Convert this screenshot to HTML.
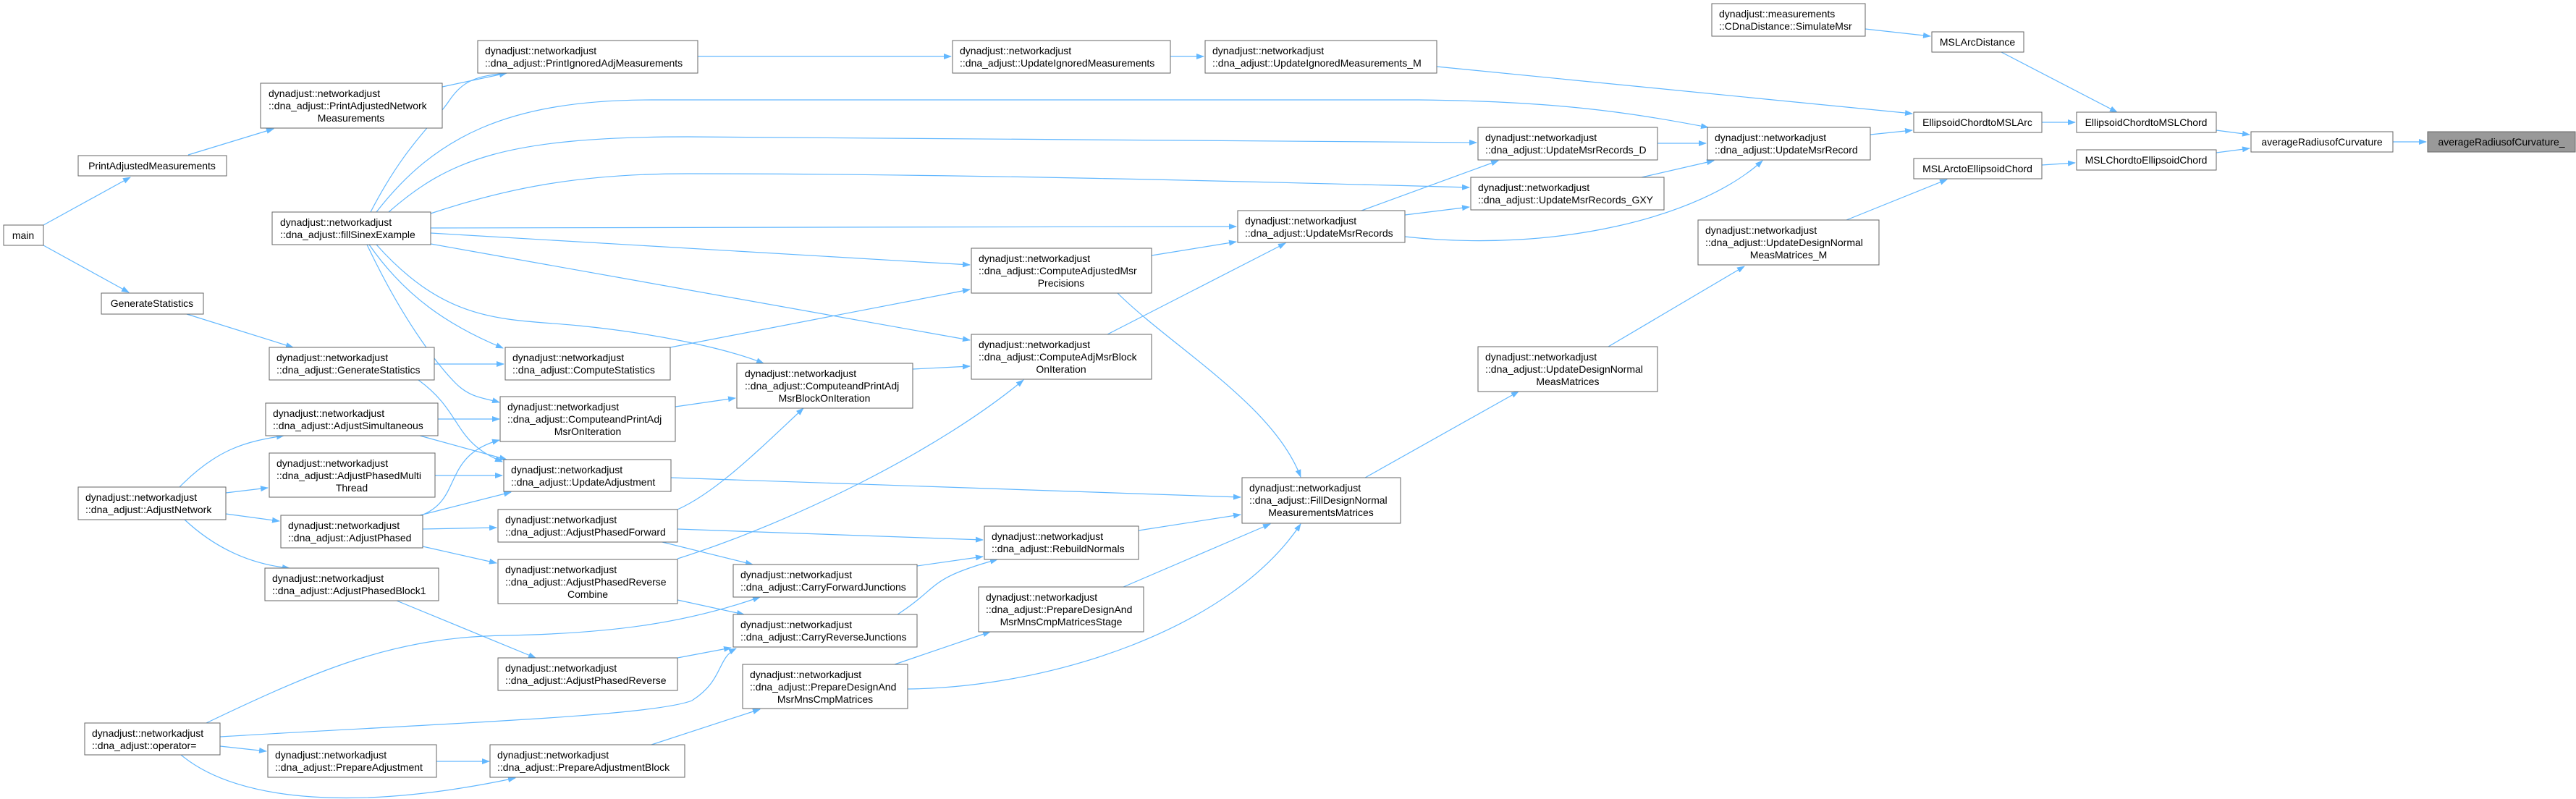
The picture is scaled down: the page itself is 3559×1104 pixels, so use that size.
<!DOCTYPE html>
<html><head><meta charset="utf-8"><style>
html,body{margin:0;padding:0;background:#fff;}
svg{display:block;}
text{font-family:"Liberation Sans",sans-serif;font-size:14px;fill:#000;}
rect{fill:#fff;stroke:#666;stroke-width:1;}
path.e{fill:none;stroke:#63b8ff;stroke-width:1.2;marker-end:url(#a);}
</style></head><body>
<svg width="3559" height="1104" viewBox="0 0 3559 1104" xmlns="http://www.w3.org/2000/svg">
<defs><marker id="a" markerWidth="11" markerHeight="8" refX="10" refY="4" orient="auto" markerUnits="userSpaceOnUse"><path d="M0,0 L11,4 L0,8 z" fill="#63b8ff"/></marker></defs>

<!-- edges -->
<path class="e" d="M60,311 L180,245"/>
<path class="e" d="M60,339 L178,404"/>
<path class="e" d="M260,214 L378,178"/>
<path class="e" d="M611,120 L700,101"/>
<path class="e" d="M512,293 C560,200 600,170 620,140 C640,110 660,105 700,101"/>
<path class="e" d="M520,293 C600,190 700,138 900,138 L1960,138 C2150,140 2250,155 2360,176"/>
<path class="e" d="M537,293 C620,220 700,189 950,189 L2040,197"/>
<path class="e" d="M595,295 C700,260 800,240 950,240 C1300,240 1700,250 2030,259"/>
<path class="e" d="M595,315 L1708,313"/>
<path class="e" d="M595,322 L1340,366"/>
<path class="e" d="M595,337 L1340,470"/>
<path class="e" d="M510,338 C560,410 620,450 695,481"/>
<path class="e" d="M520,338 C620,450 700,440 800,450 C900,460 1000,480 1055,502"/>
<path class="e" d="M507,338 C560,450 610,510 630,530 C650,550 670,550 690,556"/>
<path class="e" d="M258,434 L405,480"/>
<path class="e" d="M600,503 L696,503"/>
<path class="e" d="M578,525 C640,570 625,610 694,638"/>
<path class="e" d="M605,579 L690,579"/>
<path class="e" d="M580,602 L700,635"/>
<path class="e" d="M601,657 L694,657"/>
<path class="e" d="M248,673 C300,620 340,610 392,602"/>
<path class="e" d="M312,681 L370,674"/>
<path class="e" d="M312,710 L386,720"/>
<path class="e" d="M255,718 C300,760 350,780 400,785"/>
<path class="e" d="M582,712 C640,690 610,630 690,608"/>
<path class="e" d="M580,712 L706,680"/>
<path class="e" d="M584,731 L686,729"/>
<path class="e" d="M584,755 L686,778"/>
<path class="e" d="M936,704 C990,680 1050,620 1110,564"/>
<path class="e" d="M936,731 L1358,746"/>
<path class="e" d="M915,749 L1040,780"/>
<path class="e" d="M936,772 C1100,720 1300,620 1414,525"/>
<path class="e" d="M936,829 L1028,849"/>
<path class="e" d="M927,660 L1714,687"/>
<path class="e" d="M548,830 L740,909"/>
<path class="e" d="M936,909 L1010,895"/>
<path class="e" d="M285,999 C450,920 550,880 700,878 C850,875 950,860 1050,825"/>
<path class="e" d="M304,1018 C600,1000 900,990 956,968 C1000,940 990,910 1017,896"/>
<path class="e" d="M304,1031 L368,1038"/>
<path class="e" d="M250,1043 C330,1110 500,1120 712,1075"/>
<path class="e" d="M603,1052 L676,1052"/>
<path class="e" d="M900,1029 L1050,980"/>
<path class="e" d="M1236,918 L1368,873"/>
<path class="e" d="M1254,952 C1450,950 1700,870 1797,724"/>
<path class="e" d="M1552,811 L1755,724"/>
<path class="e" d="M1267,782 L1358,769"/>
<path class="e" d="M1240,849 C1300,810 1280,800 1378,773"/>
<path class="e" d="M1573,733 L1714,711"/>
<path class="e" d="M933,562 L1016,550"/>
<path class="e" d="M926,480 L1340,400"/>
<path class="e" d="M1261,510 L1340,506"/>
<path class="e" d="M1591,353 L1708,334"/>
<path class="e" d="M1530,462 L1776,336"/>
<path class="e" d="M1544,405 C1620,480 1760,560 1797,659"/>
<path class="e" d="M1886,660 L2098,541"/>
<path class="e" d="M2222,479 L2410,368"/>
<path class="e" d="M2551,304 L2690,248"/>
<path class="e" d="M1881,291 L2070,222"/>
<path class="e" d="M1941,297 L2030,286"/>
<path class="e" d="M1941,327 C2150,350 2350,300 2435,222"/>
<path class="e" d="M2290,198 L2357,198"/>
<path class="e" d="M2268,245 L2368,222"/>
<path class="e" d="M1985,92 L2642,157"/>
<path class="e" d="M964,78 L1314,78"/>
<path class="e" d="M1617,78 L1663,78"/>
<path class="e" d="M2584,186 L2642,180"/>
<path class="e" d="M2577,40 L2667,50"/>
<path class="e" d="M2765,72 L2925,155"/>
<path class="e" d="M2821,169 L2867,169"/>
<path class="e" d="M3062,180 L3108,186"/>
<path class="e" d="M3062,211 L3108,205"/>
<path class="e" d="M2821,228 L2867,225"/>
<path class="e" d="M3306,196 L3352,196"/>

<!-- nodes -->
<g>
<rect x="5" y="311" width="55" height="28"/><text x="32" y="330" text-anchor="middle">main</text>
<rect x="108" y="215" width="205" height="28"/><text x="210" y="234" text-anchor="middle">PrintAdjustedMeasurements</text>
<rect x="140" y="405" width="141" height="29"/><text x="210" y="424" text-anchor="middle">GenerateStatistics</text>

<rect x="660" y="56" width="304" height="45"/><text x="670" y="75">dynadjust::networkadjust</text><text x="670" y="92">::dna_adjust::PrintIgnoredAdjMeasurements</text>
<rect x="360" y="115" width="251" height="62"/><text x="371" y="134">dynadjust::networkadjust</text><text x="371" y="151">::dna_adjust::PrintAdjustedNetwork</text><text x="485" y="168" text-anchor="middle">Measurements</text>
<rect x="376" y="293" width="219" height="45"/><text x="387" y="312">dynadjust::networkadjust</text><text x="387" y="329">::dna_adjust::fillSinexExample</text>
<rect x="372" y="480" width="228" height="45"/><text x="382" y="499">dynadjust::networkadjust</text><text x="382" y="516">::dna_adjust::GenerateStatistics</text>
<rect x="698" y="480" width="228" height="45"/><text x="708" y="499">dynadjust::networkadjust</text><text x="708" y="516">::dna_adjust::ComputeStatistics</text>
<rect x="1018" y="502" width="243" height="62"/><text x="1029" y="521">dynadjust::networkadjust</text><text x="1029" y="538">::dna_adjust::ComputeandPrintAdj</text><text x="1139" y="555" text-anchor="middle">MsrBlockOnIteration</text>
<rect x="691" y="548" width="242" height="62"/><text x="701" y="567">dynadjust::networkadjust</text><text x="701" y="584">::dna_adjust::ComputeandPrintAdj</text><text x="812" y="601" text-anchor="middle">MsrOnIteration</text>
<rect x="367" y="557" width="238" height="45"/><text x="377" y="576">dynadjust::networkadjust</text><text x="377" y="593">::dna_adjust::AdjustSimultaneous</text>
<rect x="372" y="626" width="229" height="61"/><text x="382" y="645">dynadjust::networkadjust</text><text x="382" y="662">::dna_adjust::AdjustPhasedMulti</text><text x="486" y="679" text-anchor="middle">Thread</text>
<rect x="696" y="635" width="231" height="44"/><text x="706" y="654">dynadjust::networkadjust</text><text x="706" y="671">::dna_adjust::UpdateAdjustment</text>
<rect x="108" y="673" width="204" height="45"/><text x="118" y="692">dynadjust::networkadjust</text><text x="118" y="709">::dna_adjust::AdjustNetwork</text>
<rect x="388" y="712" width="196" height="45"/><text x="398" y="731">dynadjust::networkadjust</text><text x="398" y="748">::dna_adjust::AdjustPhased</text>
<rect x="688" y="704" width="248" height="45"/><text x="698" y="723">dynadjust::networkadjust</text><text x="698" y="740">::dna_adjust::AdjustPhasedForward</text>
<rect x="366" y="785" width="240" height="45"/><text x="376" y="804">dynadjust::networkadjust</text><text x="376" y="821">::dna_adjust::AdjustPhasedBlock1</text>
<rect x="688" y="773" width="248" height="61"/><text x="698" y="792">dynadjust::networkadjust</text><text x="698" y="809">::dna_adjust::AdjustPhasedReverse</text><text x="812" y="826" text-anchor="middle">Combine</text>
<rect x="1013" y="780" width="254" height="45"/><text x="1023" y="799">dynadjust::networkadjust</text><text x="1023" y="816">::dna_adjust::CarryForwardJunctions</text>
<rect x="1013" y="849" width="254" height="45"/><text x="1023" y="868">dynadjust::networkadjust</text><text x="1023" y="885">::dna_adjust::CarryReverseJunctions</text>
<rect x="688" y="909" width="248" height="45"/><text x="698" y="928">dynadjust::networkadjust</text><text x="698" y="945">::dna_adjust::AdjustPhasedReverse</text>
<rect x="1026" y="918" width="228" height="61"/><text x="1036" y="937">dynadjust::networkadjust</text><text x="1036" y="954">::dna_adjust::PrepareDesignAnd</text><text x="1140" y="971" text-anchor="middle">MsrMnsCmpMatrices</text>
<rect x="117" y="999" width="187" height="44"/><text x="127" y="1018">dynadjust::networkadjust</text><text x="127" y="1035">::dna_adjust::operator=</text>
<rect x="370" y="1029" width="233" height="45"/><text x="380" y="1048">dynadjust::networkadjust</text><text x="380" y="1065">::dna_adjust::PrepareAdjustment</text>
<rect x="677" y="1029" width="269" height="45"/><text x="687" y="1048">dynadjust::networkadjust</text><text x="687" y="1065">::dna_adjust::PrepareAdjustmentBlock</text>

<rect x="1316" y="56" width="301" height="45"/><text x="1326" y="75">dynadjust::networkadjust</text><text x="1326" y="92">::dna_adjust::UpdateIgnoredMeasurements</text>
<rect x="1665" y="56" width="320" height="45"/><text x="1675" y="75">dynadjust::networkadjust</text><text x="1675" y="92">::dna_adjust::UpdateIgnoredMeasurements_M</text>
<rect x="2042" y="176" width="248" height="45"/><text x="2052" y="195">dynadjust::networkadjust</text><text x="2052" y="212">::dna_adjust::UpdateMsrRecords_D</text>
<rect x="2032" y="245" width="267" height="45"/><text x="2042" y="264">dynadjust::networkadjust</text><text x="2042" y="281">::dna_adjust::UpdateMsrRecords_GXY</text>
<rect x="1710" y="291" width="231" height="44"/><text x="1720" y="310">dynadjust::networkadjust</text><text x="1720" y="327">::dna_adjust::UpdateMsrRecords</text>
<rect x="1342" y="343" width="249" height="62"/><text x="1352" y="362">dynadjust::networkadjust</text><text x="1352" y="379">::dna_adjust::ComputeAdjustedMsr</text><text x="1466" y="396" text-anchor="middle">Precisions</text>
<rect x="1342" y="462" width="249" height="62"/><text x="1352" y="481">dynadjust::networkadjust</text><text x="1352" y="498">::dna_adjust::ComputeAdjMsrBlock</text><text x="1466" y="515" text-anchor="middle">OnIteration</text>
<rect x="2042" y="479" width="248" height="62"/><text x="2052" y="498">dynadjust::networkadjust</text><text x="2052" y="515">::dna_adjust::UpdateDesignNormal</text><text x="2166" y="532" text-anchor="middle">MeasMatrices</text>
<rect x="1716" y="660" width="219" height="63"/><text x="1726" y="679">dynadjust::networkadjust</text><text x="1726" y="696">::dna_adjust::FillDesignNormal</text><text x="1825" y="713" text-anchor="middle">MeasurementsMatrices</text>
<rect x="1360" y="727" width="213" height="46"/><text x="1370" y="746">dynadjust::networkadjust</text><text x="1370" y="763">::dna_adjust::RebuildNormals</text>
<rect x="1352" y="811" width="228" height="62"/><text x="1362" y="830">dynadjust::networkadjust</text><text x="1362" y="847">::dna_adjust::PrepareDesignAnd</text><text x="1466" y="864" text-anchor="middle">MsrMnsCmpMatricesStage</text>

<rect x="2365" y="5" width="212" height="45"/><text x="2375" y="24">dynadjust::measurements</text><text x="2375" y="41">::CDnaDistance::SimulateMsr</text>
<rect x="2669" y="44" width="127" height="28"/><text x="2732" y="63" text-anchor="middle">MSLArcDistance</text>
<rect x="2644" y="155" width="177" height="28"/><text x="2732" y="174" text-anchor="middle">EllipsoidChordtoMSLArc</text>
<rect x="2869" y="155" width="193" height="28"/><text x="2965" y="174" text-anchor="middle">EllipsoidChordtoMSLChord</text>
<rect x="3110" y="182" width="196" height="28"/><text x="3208" y="201" text-anchor="middle">averageRadiusofCurvature</text>
<rect x="3354" y="182" width="204" height="28" style="fill:#999"/><text x="3456" y="201" text-anchor="middle">averageRadiusofCurvature_</text>
<rect x="2359" y="176" width="225" height="45"/><text x="2369" y="195">dynadjust::networkadjust</text><text x="2369" y="212">::dna_adjust::UpdateMsrRecord</text>
<rect x="2869" y="207" width="193" height="28"/><text x="2965" y="226" text-anchor="middle">MSLChordtoEllipsoidChord</text>
<rect x="2644" y="219" width="177" height="28"/><text x="2732" y="238" text-anchor="middle">MSLArctoEllipsoidChord</text>
<rect x="2346" y="304" width="250" height="62"/><text x="2356" y="323">dynadjust::networkadjust</text><text x="2356" y="340">::dna_adjust::UpdateDesignNormal</text><text x="2471" y="357" text-anchor="middle">MeasMatrices_M</text>
</g>
</svg>
</body></html>
